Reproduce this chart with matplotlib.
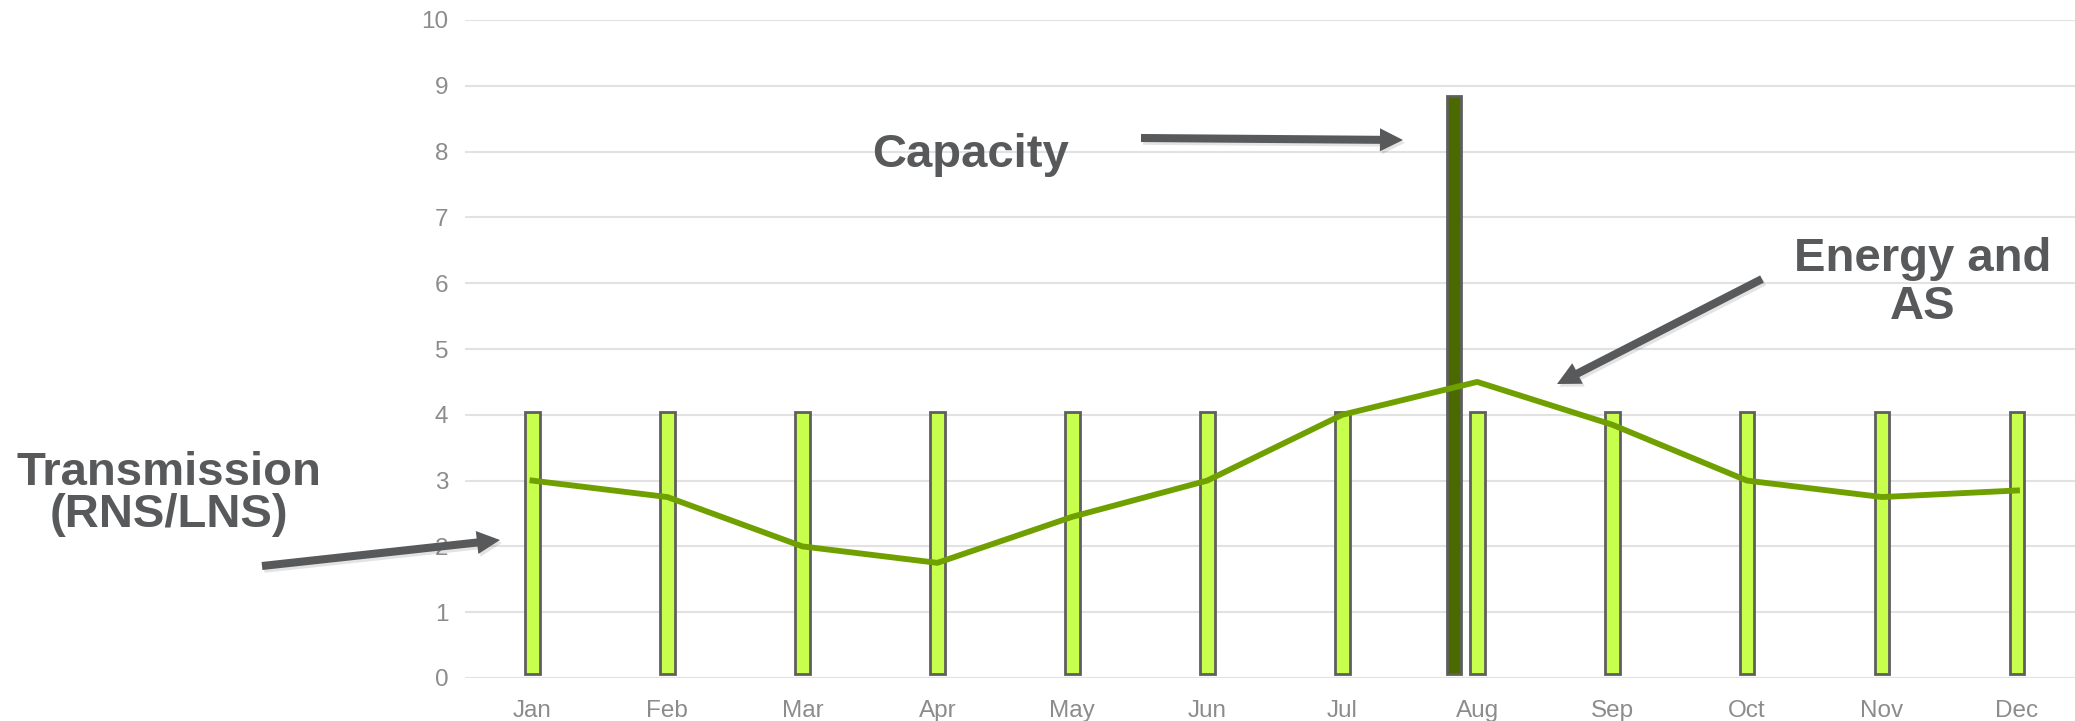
import matplotlib.pyplot as plt
import matplotlib.patheffects as pe
import numpy as np

plt.rcParams['font.family'] = ['Liberation Sans', 'DejaVu Sans']

months = ["Jan", "Feb", "Mar", "Apr", "May", "Jun",
          "Jul", "Aug", "Sep", "Oct", "Nov", "Dec"]
transmission = [4.05, 4.05, 4.05, 4.05, 4.05, 4.05,
                4.05, 4.05, 4.05, 4.05, 4.05, 4.05]
energy_as = [3.0, 2.75, 2.0, 1.75, 2.45, 3.0,
             4.0, 4.5, 3.85, 3.0, 2.75, 2.85]
capacity_month = "Aug"
capacity_value = 8.85

TEXT_GREY = "#58595b"
bar_base = 0.06

fig = plt.figure(figsize=(20.75, 7.21), dpi=100)
ax = fig.add_axes([465 / 2075, 43 / 721, 1 - 465 / 2075, 658 / 721])

x = np.arange(len(months))

# monthly transmission bars
ax.bar(x, np.array(transmission) - bar_base, bottom=bar_base, width=0.11,
       color="#c8ff4d", edgecolor="#5f5f5f", linewidth=2, zorder=3)

# single capacity bar, offset to the left of its month
ci = months.index(capacity_month)
ax.bar(ci - 0.174, capacity_value - bar_base, bottom=bar_base, width=0.105,
       color="#4a6a00", edgecolor="#5f5f5f", linewidth=2, zorder=3)

# energy and AS line
ax.plot(x, energy_as, color="#70a000", lw=4.2, zorder=4)

ax.set_xlim(-0.5, 11.43)
ax.set_ylim(0, 10)
ax.set_yticks(range(0, 11))
ax.set_xticks(x)
ax.set_xticklabels(months)
ax.grid(axis="y", color="#e2e2e2", lw=1.5, zorder=0)
ax.set_axisbelow(True)
for s in ax.spines.values():
    s.set_visible(False)
ax.tick_params(axis="both", length=0, labelsize=17.5, colors="#8c8c8c")
ax.tick_params(axis="y", pad=12)
ax.tick_params(axis="x", pad=16)


def fpx(px, py):
    return (px / 2075, 1 - py / 721)


arrow_kw = dict(arrowstyle="simple,head_length=0.83,head_width=0.83,tail_width=0.29",
                lw=0, color=TEXT_GREY, shrinkA=0, shrinkB=0, mutation_scale=20)


def callout(text, xy_text, tail, tip, spacing):
    fig.text(*fpx(*xy_text), text, ha="center", va="center", fontsize=34,
             fontweight="bold", color=TEXT_GREY, linespacing=spacing)
    a = ax.annotate("", xy=fpx(*tip), xycoords="figure fraction",
                    xytext=fpx(*tail), textcoords="figure fraction",
                    arrowprops=arrow_kw, annotation_clip=False)
    a.arrow_patch.set_path_effects(
        [pe.SimplePatchShadow(offset=(1.5, -2), alpha=0.12), pe.Normal()])


callout("Capacity", (970, 155), (1141, 138), (1403, 140), 1.0)
callout("Transmission\n(RNS/LNS)", (169, 494), (262, 566), (500, 540), 0.97)
callout("Energy and\nAS", (1923, 283), (1762, 279), (1557, 384), 1.12)

fig.savefig("out.png", dpi=100)
